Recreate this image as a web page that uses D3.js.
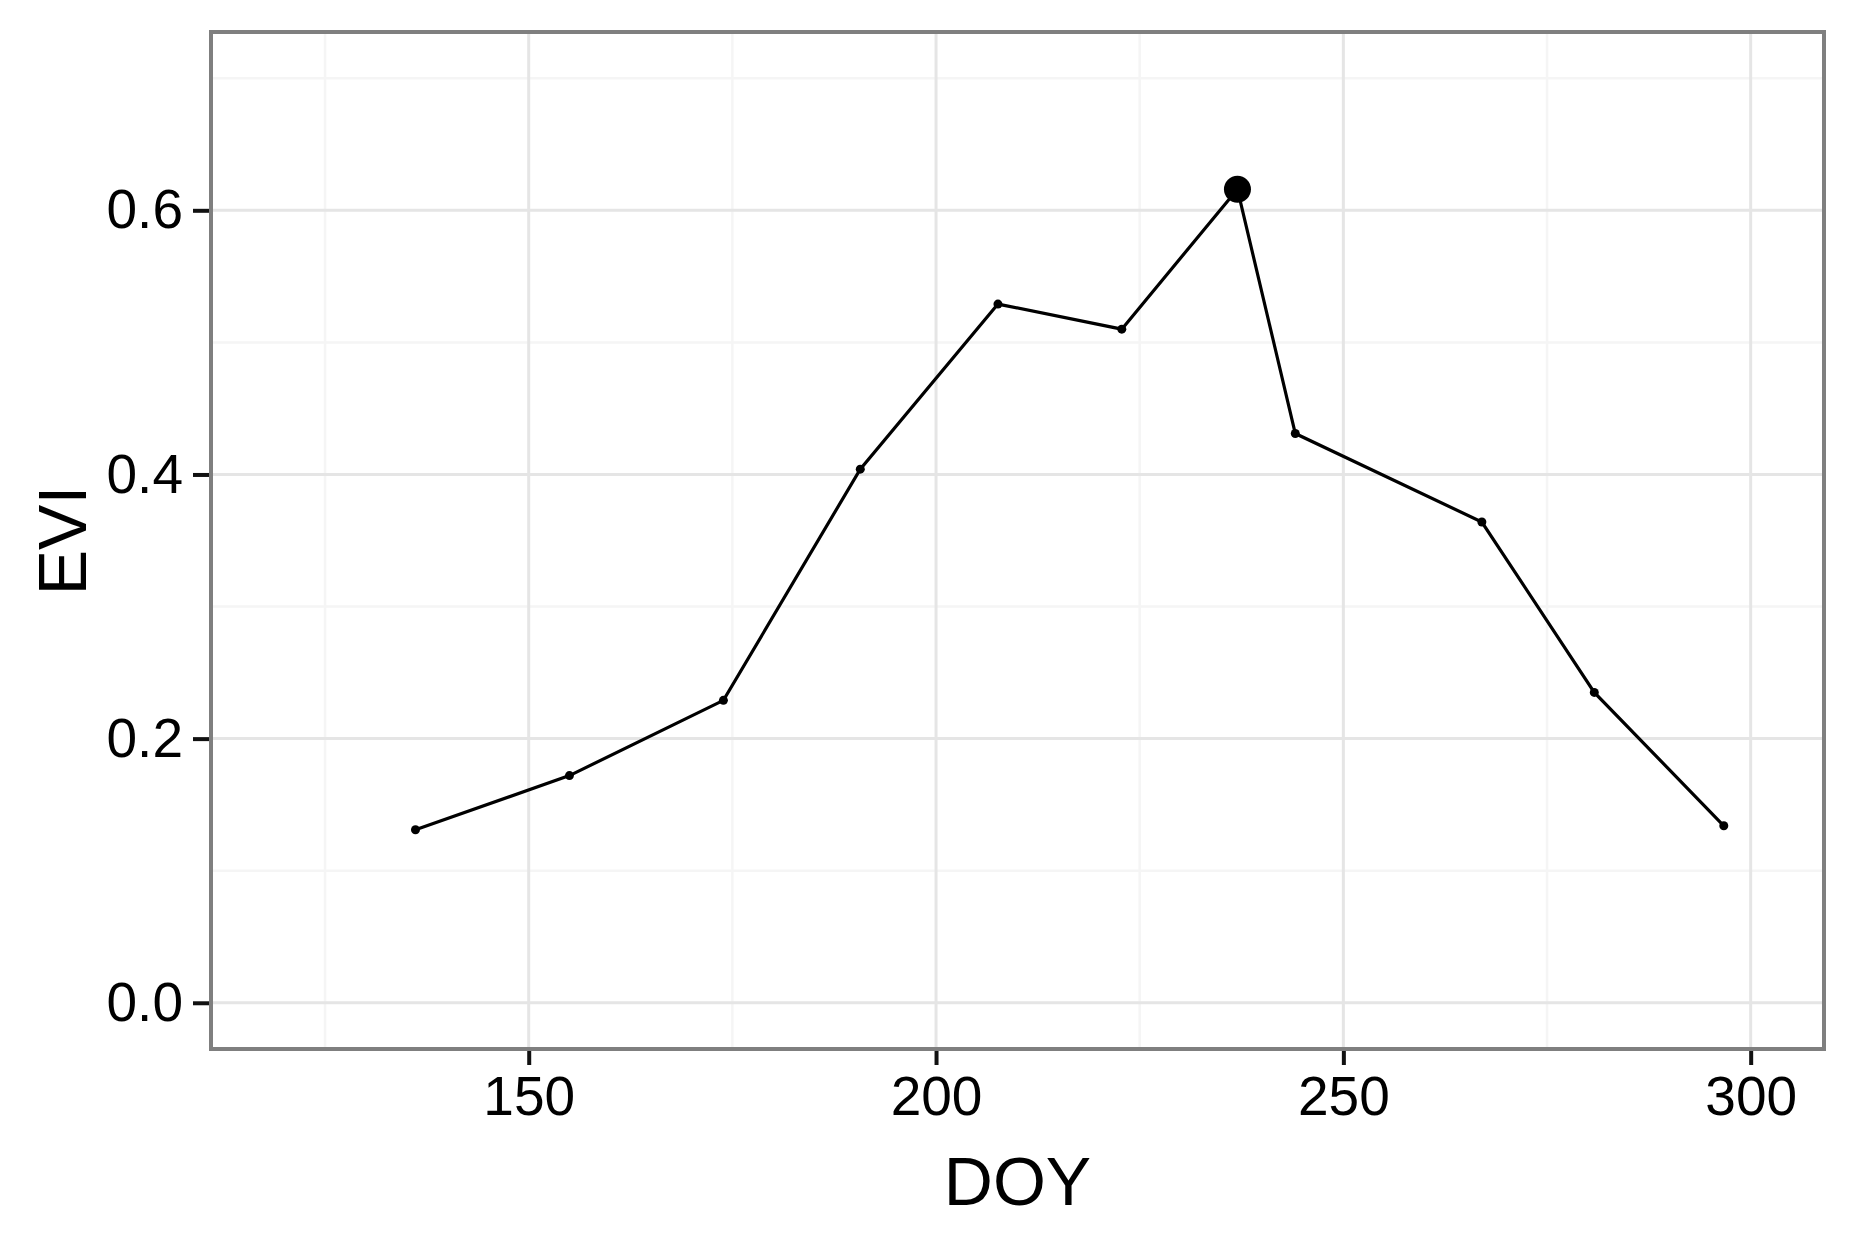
<!DOCTYPE html>
<html>
<head>
<meta charset="utf-8">
<script src="https://cdn.jsdelivr.net/npm/d3@7"></script>
<style>
  body { margin: 0; background: #fff; }
  text { font-family: "Liberation Sans", Arial, sans-serif; fill: #000; }
</style>
</head>
<body>
<svg></svg>
<script>
// DOY / EVI values
var doy = [136.1, 155.0, 173.9, 190.7, 207.6, 222.8, 237.0, 244.1, 267.0, 280.8, 296.7];
var evi = [0.131, 0.172, 0.229, 0.404, 0.529, 0.510, 0.616, 0.431, 0.364, 0.235, 0.134];
var peakIndex = 6;
var xTicks = [150, 200, 250, 300];
var yTicks = [0.0, 0.2, 0.4, 0.6];
var xMinor = [125, 175, 225, 275];
var yMinor = [0.1, 0.3, 0.5, 0.7];

var width = 1850;
var height = 1241;
var panel = {left: 211, right: 1824, top: 32, bottom: 1049};

var svg = d3.select('svg')
            .attr('width', width)
            .attr('height', height);

// ggplot-style limits 120..300, 0..0.7 with 5% expansion
var xScale = d3.scaleLinear()
               .domain([120 - 9, 300 + 9])
               .range([panel.left, panel.right]);

var yScale = d3.scaleLinear()
               .domain([-0.035, 0.735])
               .range([panel.bottom, panel.top]);

var grid = svg.append('g');

grid.selectAll('.xminor')
    .data(xMinor)
  .enter().append('line')
    .attr('x1', d => xScale(d)).attr('x2', d => xScale(d))
    .attr('y1', panel.top).attr('y2', panel.bottom)
    .attr('stroke', '#f5f5f5').attr('stroke-width', 2.5);

grid.selectAll('.yminor')
    .data(yMinor)
  .enter().append('line')
    .attr('y1', d => yScale(d)).attr('y2', d => yScale(d))
    .attr('x1', panel.left).attr('x2', panel.right)
    .attr('stroke', '#f5f5f5').attr('stroke-width', 2.5);

grid.selectAll('.xmajor')
    .data(xTicks)
  .enter().append('line')
    .attr('x1', d => xScale(d)).attr('x2', d => xScale(d))
    .attr('y1', panel.top).attr('y2', panel.bottom)
    .attr('stroke', '#e5e5e5').attr('stroke-width', 3);

grid.selectAll('.ymajor')
    .data(yTicks)
  .enter().append('line')
    .attr('y1', d => yScale(d)).attr('y2', d => yScale(d))
    .attr('x1', panel.left).attr('x2', panel.right)
    .attr('stroke', '#e5e5e5').attr('stroke-width', 3);

// line + points
var points = doy.map((d, i) => ({doy: d, evi: evi[i]}));

svg.append('path')
    .datum(points)
    .attr('fill', 'none')
    .attr('stroke', '#000')
    .attr('stroke-width', 3.2)
    .attr('d', d3.line().x(d => xScale(d.doy)).y(d => yScale(d.evi)));

svg.selectAll('.pt')
    .data(points)
  .enter().append('circle')
    .attr('cx', d => xScale(d.doy))
    .attr('cy', d => yScale(d.evi))
    .attr('r', (d, i) => i === peakIndex ? 13.5 : 4.5)
    .attr('fill', '#000');

// panel border
svg.append('rect')
    .attr('x', panel.left).attr('y', panel.top)
    .attr('width', panel.right - panel.left)
    .attr('height', panel.bottom - panel.top)
    .attr('fill', 'none')
    .attr('stroke', '#7f7f7f')
    .attr('stroke-width', 4);

// axes
var xAxis = svg.append('g')
    .attr('transform', 'translate(0,' + (panel.bottom + 2) + ')')
    .call(d3.axisBottom(xScale).tickValues(xTicks).tickSize(14).tickPadding(11).tickFormat(d3.format('d')));

var yAxis = svg.append('g')
    .attr('transform', 'translate(' + (panel.left - 2) + ',0)')
    .call(d3.axisLeft(yScale).tickValues(yTicks).tickSize(16).tickPadding(10).tickFormat(d3.format('.1f')));

[xAxis, yAxis].forEach(function(ax) {
  ax.select('.domain').remove();
  ax.selectAll('.tick line').attr('stroke', '#111').attr('stroke-width', 4);
  ax.selectAll('.tick text')
      .attr('fill', '#000')
      .style('font-size', '55px')
      .style('font-family', '"Liberation Sans", Arial, sans-serif');
});
xAxis.selectAll('.tick text').attr('dy', '0.71em');

svg.append('text')
    .text('DOY')
    .attr('x', (panel.left + panel.right) / 2)
    .attr('y', 1205)
    .attr('text-anchor', 'middle')
    .style('font-size', '68px');

svg.append('text')
    .text('EVI')
    .attr('transform', 'translate(86,' + ((panel.top + panel.bottom) / 2) + ') rotate(-90)')
    .attr('text-anchor', 'middle')
    .style('font-size', '68px');
</script>
</body>
</html>
